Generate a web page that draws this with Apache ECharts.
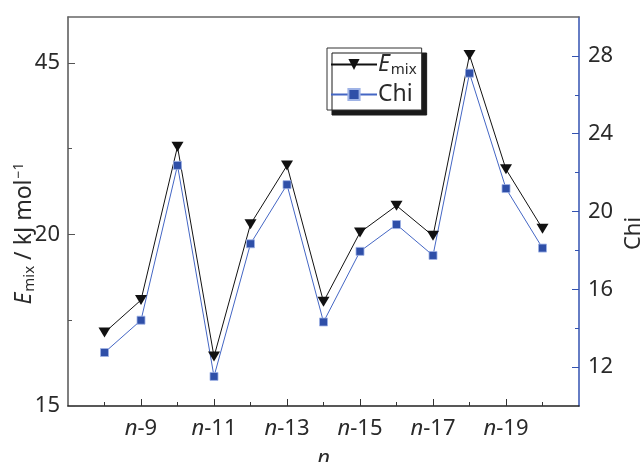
<!DOCTYPE html>
<html>
<head>
<meta charset="utf-8">
<script src="https://cdn.jsdelivr.net/npm/echarts@6/dist/echarts.min.js"></script>
<style>
  html, body { margin: 0; padding: 0; background: #fff; }
  #chart { width: 643px; height: 462px; }
</style>
</head>
<body>
<div id="chart"></div>
<script>
'use strict';

// n-8 ... n-20
const nValues = [8, 9, 10, 11, 12, 13, 14, 15, 16, 17, 18, 19, 20];
const emixValues = [17.14, 18.09, 22.56, 16.44, 20.30, 22.01, 18.04, 20.06, 20.84, 19.96, 25.23, 21.90, 20.17];
const chiValues = [12.75, 14.41, 22.37, 11.52, 18.34, 21.38, 14.32, 17.95, 19.33, 17.74, 27.11, 21.18, 18.12];

// tick labels
const xLabelTicks = [9, 11, 13, 15, 17, 19];
const xMinorTicks = [8, 10, 12, 14, 16, 18, 20];
const leftTickValues = [15, 20, 25];
const leftTickLabels = ['15', '20', '45'];
const leftMinorTicks = [17.5, 22.5];
const rightTickValues = [12, 16, 20, 24, 28];
const rightMinorTicks = [14, 18, 22, 26];

const FONT = 'Noto Sans';
const TXT = '#2a2a2a';
const BLUE = '#3352b0';

const chart = echarts.init(document.getElementById('chart'), null, { renderer: 'canvas' });

const labelStyle = { color: TXT, fontSize: 22, fontFamily: FONT };

function pairs(ys) { return nValues.map((n, i) => [n, ys[i]]); }

chart.setOption({
  animation: false,
  grid: { left: 68, right: 64, top: 17, bottom: 56, outerBoundsMode: 'none', containLabel: false },
  legend: {
    left: 327, top: 48,
    orient: 'vertical',
    itemWidth: 46, itemHeight: 14, itemGap: 6,
    padding: [5, 5, 4, 3],
    backgroundColor: '#fff',
    borderColor: '#333', borderWidth: 1,
    shadowColor: '#1a1a1a', shadowOffsetX: 5, shadowOffsetY: 5, shadowBlur: 0,
    textStyle: {
      color: TXT, fontSize: 23, fontFamily: FONT, padding: [0, 0, 0, -4],
      rich: {
        i: { fontStyle: 'italic', fontSize: 23, fontFamily: FONT, color: TXT },
        s: { fontSize: 15, fontFamily: FONT, color: TXT, padding: [10, 0, 0, 1] }
      }
    },
    formatter: (name) => name === 'Emix' ? '{i|E}{s|mix}' : name,
    data: ['Emix', 'Chi']
  },
  xAxis: [{
    type: 'value', min: 7, max: 21,
    name: 'n', nameLocation: 'middle', nameGap: 42, nameMoveOverlap: false,
    nameTextStyle: { color: TXT, fontSize: 22, fontFamily: FONT, fontStyle: 'italic' },
    axisLine: { lineStyle: { color: '#222', width: 1.5 } },
    axisTick: { inside: true, length: 7, customValues: xLabelTicks, lineStyle: { color: '#333' } },
    axisLabel: {
      customValues: xLabelTicks, margin: 12,
      formatter: (v) => '{i|n}-' + v,
      color: TXT, fontSize: 22, fontFamily: FONT,
      rich: { i: { fontStyle: 'italic', fontSize: 22, fontFamily: FONT, color: TXT } }
    },
    splitLine: { show: false }
  }, {
    type: 'value', min: 7, max: 21, position: 'bottom',
    axisLine: { show: false },
    axisTick: { inside: true, length: 4, customValues: xMinorTicks, lineStyle: { color: '#333' } },
    axisLabel: { show: false },
    splitLine: { show: false }
  }, {
    type: 'value', min: 7, max: 21, position: 'top',
    axisLine: { lineStyle: { color: '#666', width: 1.5 } },
    axisTick: { show: false }, axisLabel: { show: false }, splitLine: { show: false }
  }],
  yAxis: [{
    type: 'value', min: 15, max: 26.34, position: 'left',
    name: '{i|E}{s|mix} / kJ mol{p|−1}', nameLocation: 'middle', nameGap: 31, nameMoveOverlap: false,
    nameTextStyle: {
      color: TXT, fontSize: 23, fontFamily: FONT, padding: [0, 44, 0, 0],
      rich: {
        i: { fontStyle: 'italic', fontSize: 23, fontFamily: FONT, color: TXT },
        s: { fontSize: 15, fontFamily: FONT, color: TXT, padding: [10, 0, 0, 1] },
        p: { fontSize: 14, fontFamily: FONT, color: TXT, padding: [0, 0, 10, 1] }
      }
    },
    axisLine: { lineStyle: { color: '#555', width: 1.5 } },
    axisTick: { inside: true, length: 7, customValues: leftTickValues, lineStyle: { color: '#555' } },
    axisLabel: Object.assign({
      customValues: leftTickValues, margin: 8,
      formatter: (v) => leftTickLabels[leftTickValues.indexOf(v)]
    }, labelStyle),
    splitLine: { show: false }
  }, {
    type: 'value', min: 10, max: 30, position: 'right',
    name: 'Chi', nameLocation: 'middle', nameGap: 44, nameMoveOverlap: false,
    nameTextStyle: { color: TXT, fontSize: 22, fontFamily: FONT, padding: [0, 44, 0, 0] },
    axisLine: { lineStyle: { color: BLUE, width: 1.5 } },
    axisTick: { inside: true, length: 7, customValues: rightTickValues, lineStyle: { color: BLUE } },
    axisLabel: Object.assign({ customValues: rightTickValues, margin: 9 }, labelStyle),
    splitLine: { show: false }
  }, {
    type: 'value', min: 15, max: 26.34, position: 'left',
    axisLine: { show: false },
    axisTick: { inside: true, length: 4, customValues: leftMinorTicks, lineStyle: { color: '#555' } },
    axisLabel: { show: false }, splitLine: { show: false }
  }, {
    type: 'value', min: 10, max: 30, position: 'right',
    axisLine: { show: false },
    axisTick: { inside: true, length: 4, customValues: rightMinorTicks, lineStyle: { color: BLUE } },
    axisLabel: { show: false }, splitLine: { show: false }
  }],
  series: [{
    name: 'Emix', type: 'line', yAxisIndex: 0,
    data: pairs(emixValues),
    symbol: 'triangle', symbolRotate: 180, symbolSize: [12, 10],
    lineStyle: { color: '#111', width: 1 },
    itemStyle: { color: '#111' }
  }, {
    name: 'Chi', type: 'line', yAxisIndex: 1,
    data: pairs(chiValues),
    symbol: 'rect', symbolSize: 8,
    lineStyle: { color: '#4466c4', width: 1 },
    itemStyle: { color: '#2f4fa8', borderColor: '#9fb3e6', borderWidth: 0.8 }
  }]
});
</script>
</body>
</html>
